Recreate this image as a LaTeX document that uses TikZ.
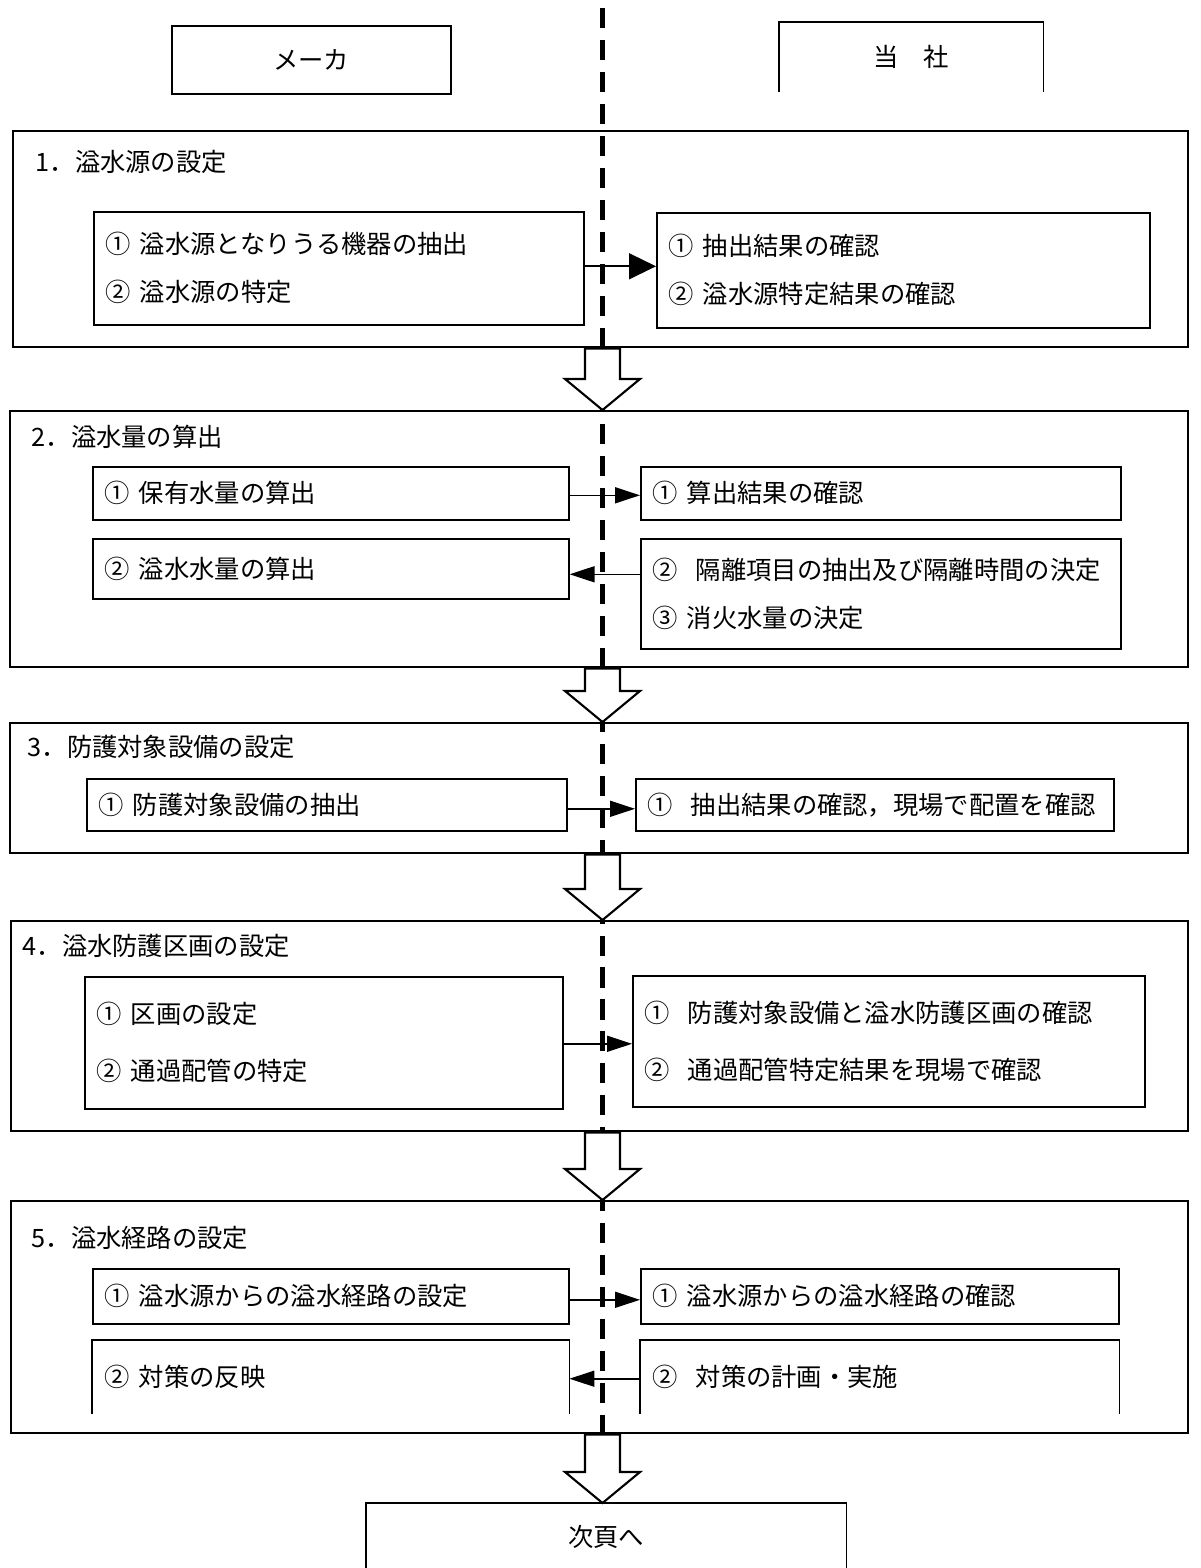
\documentclass[tikz,border=0pt]{standalone}
\usepackage{fontspec}
\setmainfont{Noto Sans CJK JP}
\usetikzlibrary{positioning,arrows.meta}
\newcommand{\numgap}{\hspace{0.35em}}

\begin{document}
\begin{tikzpicture}[
  font=\fontsize{7.2pt}{13.7pt}\selectfont,
  tag/.style={draw, line width=0.45pt, anchor=north west, inner sep=0pt},
  stage/.style={draw, line width=0.7pt, anchor=north west, inner sep=0pt},
  box/.style={draw, line width=0.45pt, anchor=north west, align=left, inner xsep=1.2mm, inner ysep=0pt, minimum width=#1, text width=#1-2.4mm},
  openbox/.style={anchor=north west, align=left, inner xsep=1.2mm, inner ysep=0pt, minimum width=#1, text width=#1-2.4mm},
  head/.style={anchor=west, inner sep=0pt},
  flow/.style={-{Triangle[length=2.5mm,width=1.6mm]}, line width=0.45pt},
  bigflow/.style={-{Triangle[length=2.7mm,width=2.6mm]}, line width=0.45pt},
  hollow/.style={draw, fill=white, line width=0.6pt, line join=miter},
  lane/.style={line width=1.3pt, dash pattern=on 5.7pt off 3.4pt}
]
\useasboundingbox (0,0) rectangle (12,-15.68);
\coordinate (axis) at (6.025,-0.08);

% header
\node[tag, minimum width=2.79cm, minimum height=0.68cm] (mk) at (1.71,-0.25) {メーカ};
\node[tag, draw=none, minimum width=2.63cm, minimum height=0.68cm] (ts) at (7.79,-0.22) {当　社};
\draw[line width=0.45pt] (ts.south west) |- (ts.north east) -- (ts.south east);

% 1
\node[stage, minimum width=11.75cm, minimum height=2.16cm] (s1) at (0.12,-1.30) {};
\node[head] (t1) at (0.35,-1.62) {1．溢水源の設定};
\node[box=4.90cm, minimum height=1.13cm] (a1) at (0.93,-2.11) {①\numgap 溢水源となりうる機器の抽出\\②\numgap 溢水源の特定};
\node[box=4.93cm, minimum height=1.15cm] (b1) at (6.56,-2.12) {①\numgap 抽出結果の確認\\②\numgap 溢水源特定結果の確認};

% 2
\node[stage, minimum width=11.78cm, minimum height=2.56cm] (s2) at (0.09,-4.10) {};
\node[head] (t2) at (0.31,-4.37) {2．溢水量の算出};
\node[box=4.76cm, minimum height=0.53cm] (a2) at (0.92,-4.66) {①\numgap 保有水量の算出};
\node[box=4.80cm, minimum height=0.53cm] (b2) at (6.40,-4.66) {①\numgap 算出結果の確認};
\node[box=4.76cm, minimum height=0.60cm] (c2) at (0.92,-5.38) {②\numgap 溢水水量の算出};
\node[box=4.80cm, minimum height=1.10cm] (d2) at (6.40,-5.38) {②\hspace{0.7em}隔離項目の抽出及び隔離時間の決定\\③\numgap 消火水量の決定};

% 3
\node[stage, minimum width=11.78cm, minimum height=1.30cm] (s3) at (0.09,-7.22) {};
\node[head] (t3) at (0.27,-7.47) {3．防護対象設備の設定};
\node[box=4.80cm, minimum height=0.52cm] (a3) at (0.86,-7.78) {①\numgap 防護対象設備の抽出};
\node[box=4.78cm, minimum height=0.52cm] (b3) at (6.35,-7.78) {①\hspace{0.7em}抽出結果の確認，現場で配置を確認};

% 4
\node[stage, minimum width=11.77cm, minimum height=2.10cm] (s4) at (0.10,-9.20) {};
\node[head] (t4) at (0.22,-9.46) {4．溢水防護区画の設定};
\node[box=4.78cm, minimum height=1.32cm] (a4) at (0.84,-9.76) {①\numgap 区画の設定\\[2.5pt]②\numgap 通過配管の特定};
\node[box=5.12cm, minimum height=1.31cm] (b4) at (6.32,-9.75) {①\hspace{0.7em}防護対象設備と溢水防護区画の確認\\[2.5pt]②\hspace{0.7em}通過配管特定結果を現場で確認};

% 5
\node[stage, minimum width=11.77cm, minimum height=2.32cm] (s5) at (0.10,-12.00) {};
\node[head] (t5) at (0.31,-12.38) {5．溢水経路の設定};
\node[box=4.76cm, minimum height=0.55cm] (a5) at (0.92,-12.68) {①\numgap 溢水源からの溢水経路の設定};
\node[box=4.78cm, minimum height=0.55cm] (b5) at (6.40,-12.68) {①\numgap 溢水源からの溢水経路の確認};
\node[openbox=4.76cm, minimum height=0.73cm] (c5) at (0.92,-13.40) {②\numgap 対策の反映};
\node[openbox=4.78cm, minimum height=0.73cm] (d5) at (6.40,-13.40) {②\hspace{0.7em}対策の計画・実施};

\node[tag, draw=none, minimum width=4.79cm, minimum height=0.66cm] (nx) at (3.66,-15.03) {次頁へ};
\foreach \n in {c5,d5,nx}
  \draw[line width=0.45pt] (\n.south west) |- (\n.north east) -- (\n.south east);

% center lane
\draw[lane] (axis) -- (axis |- nx.north);

% stage to stage
\foreach \a/\b in {s1/s2,s2/s3,s3/s4,s4/s5,s5/nx}
  \draw[hollow] ([xshift=-1.75mm]\a.south -| axis) -- ([xshift=-1.75mm,yshift=3.1mm]\b.north -| axis)
    -- ++(-2mm,0) -- (\b.north -| axis) -- ++(3.75mm,3.1mm) -- ++(-2mm,0)
    -- ([xshift=1.75mm]\a.south -| axis) -- cycle;

% hand-over
\draw[bigflow] ([yshift=0.2mm]a1.east) -- ([yshift=0.2mm]a1.east -| b1.west);
\draw[flow] ([yshift=-0.2mm]a2.east) -- ([yshift=-0.2mm]b2.west);
\draw[flow] ([yshift=-0.55mm]c2.east -| d2.west) -- ([yshift=-0.55mm]c2.east);
\draw[flow] ([yshift=-0.4mm]a3.east) -- ([yshift=-0.4mm]b3.west);
\draw[flow] ([yshift=-0.1mm]a4.east) -- ([yshift=-0.1mm]a4.east -| b4.west);
\draw[flow] ([yshift=-0.35mm]a5.east) -- ([yshift=-0.35mm]b5.west);
\draw[flow] ([yshift=-0.15mm]d5.west |- c5.east) -- ([yshift=-0.15mm]c5.east);
\end{tikzpicture}
\end{document}
